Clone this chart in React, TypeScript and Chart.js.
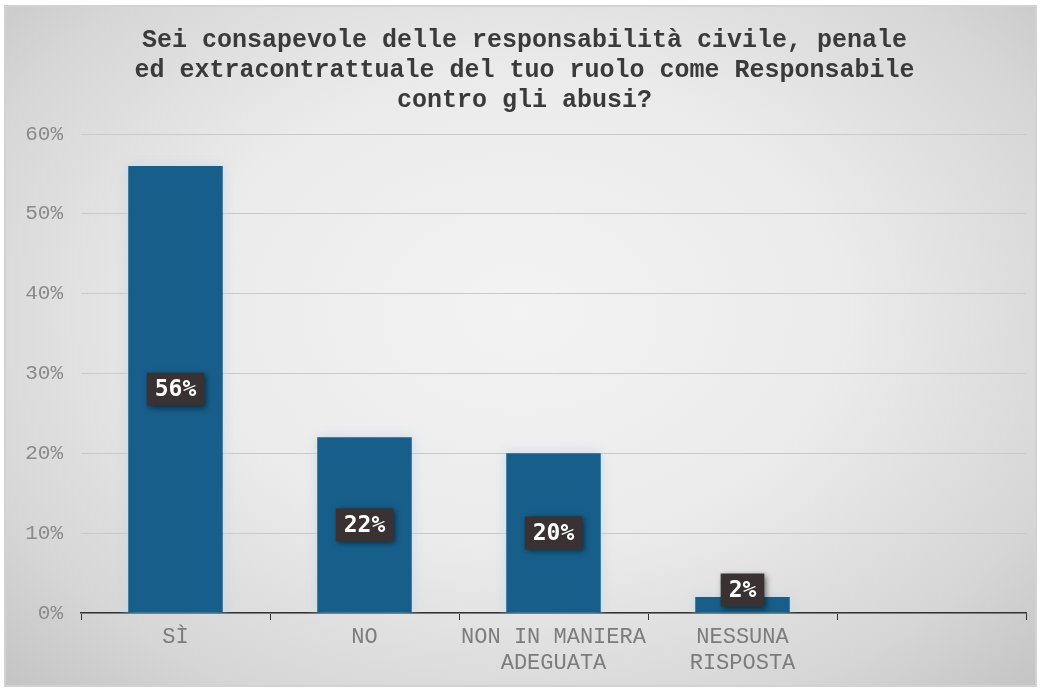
import React, { useEffect, useRef } from "react";
import { Chart, registerables } from "chart.js";

Chart.register(...registerables);

const titleLines = [
  "Sei consapevole delle responsabilità civile, penale",
  "ed extracontrattuale del tuo ruolo come Responsabile",
  "contro gli abusi?",
];
const categories: (string | string[])[] = [
  ["SÌ"],
  ["NO"],
  ["NON IN MANIERA", "ADEGUATA"],
  ["NESSUNA", "RISPOSTA"],
  [""],
];
const values: (number | null)[] = [56, 22, 20, 2, null];
const yMax = 60;
const yStep = 10;

const barShadow = {
  id: "barShadow",
  beforeDatasetDraw(chart: any) {
    const ctx = chart.ctx;
    ctx.save();
    ctx.shadowColor = "rgba(190,215,235,0.9)";
    ctx.shadowBlur = 10;
  },
  afterDatasetDraw(chart: any) {
    chart.ctx.restore();
  },
};

const valueLabels = {
  id: "valueLabels",
  afterDatasetsDraw(chart: any) {
    const ctx = chart.ctx;
    const meta = chart.getDatasetMeta(0);
    const data = chart.data.datasets[0].data;
    meta.data.forEach((el: any, i: number) => {
      const v = data[i];
      if (v == null) return;
      const text = v + "%";
      ctx.save();
      ctx.font = "bold 23px 'DejaVu Sans Mono'";
      const tw = ctx.measureText(text).width;
      const w = tw + 16;
      const h = 33;
      let cy = (el.y + el.base) / 2;
      const maxCy = el.base - 6 - h / 2;
      if (cy > maxCy) cy = maxCy;
      const cx = el.x;
      ctx.shadowColor = "rgba(0,0,0,0.55)";
      ctx.shadowBlur = 6;
      ctx.shadowOffsetX = 2;
      ctx.shadowOffsetY = 2;
      ctx.fillStyle = "#3a3232";
      ctx.fillRect(cx - w / 2, cy - h / 2, w, h);
      ctx.shadowColor = "transparent";
      ctx.fillStyle = "#ffffff";
      ctx.textAlign = "center";
      ctx.textBaseline = "middle";
      ctx.fillText(text, cx, cy + 1);
      ctx.restore();
    });
  },
};

export default function App() {
  const ref = useRef<HTMLCanvasElement | null>(null);
  useEffect(() => {
    if (!ref.current) return;
    const chart = new Chart(ref.current, {
      type: "bar",
      data: {
        labels: categories,
        datasets: [
          {
            data: values,
            backgroundColor: "#175f8a",
            categoryPercentage: 1,
            barPercentage: 0.5,
          },
        ],
      },
      options: {
        animation: false,
        responsive: false,
        maintainAspectRatio: false,
        layout: { padding: { left: 17, right: 9, top: 0, bottom: 0 } },
        plugins: {
          legend: { display: false },
          tooltip: { enabled: false },
          title: {
            display: true,
            text: titleLines,
            color: "#3a3a3a",
            font: { family: "'Liberation Mono'", size: 25, weight: "bold", lineHeight: 1.2 },
            padding: { top: 19, bottom: 18 },
          },
        },
        scales: {
          x: {
            afterFit: (s: any) => {
              s.height = 72;
            },
            grid: {
              offset: true,
              drawOnChartArea: false,
              drawTicks: true,
              tickLength: 7,
              color: "#333333",
            },
            border: { display: true, color: "#333333", width: 1.5 },
            ticks: {
              color: "#7c7c7c",
              padding: 5,
              maxRotation: 0,
              autoSkip: false,
              font: { family: "'Liberation Mono'", size: 22, lineHeight: 1.15 },
            },
          },
          y: {
            min: 0,
            max: yMax,
            afterFit: (s: any) => {
              s.width = 58;
            },
            grid: { color: "#c9c9c9", drawTicks: false, tickLength: 0 },
            border: { display: false },
            ticks: {
              stepSize: yStep,
              padding: 18,
              color: "#8a8a8a",
              font: { family: "'Liberation Mono'", size: 21 },
              callback: (v: any) => v + "%",
            },
          },
        },
      },
      plugins: [barShadow, valueLabels],
    });
    return () => chart.destroy();
  }, []);

  return (
    <div
      style={{
        position: "absolute",
        left: 0,
        top: 0,
        width: 1041,
        height: 691,
        background: "#ffffff",
      }}
    >
      <div
        style={{
          position: "absolute",
          left: 4,
          top: 5,
          width: 1029,
          height: 678,
          border: "2px solid #d2d2d2",
          background:
            "radial-gradient(ellipse at 50% 45%, #f3f3f3 0%, #ebebeb 45%, #d6d6d6 80%, #c4c4c4 100%)",
        }}
      >
        <canvas ref={ref} width={1029} height={678} style={{ display: "block" }} />
      </div>
    </div>
  );
}
